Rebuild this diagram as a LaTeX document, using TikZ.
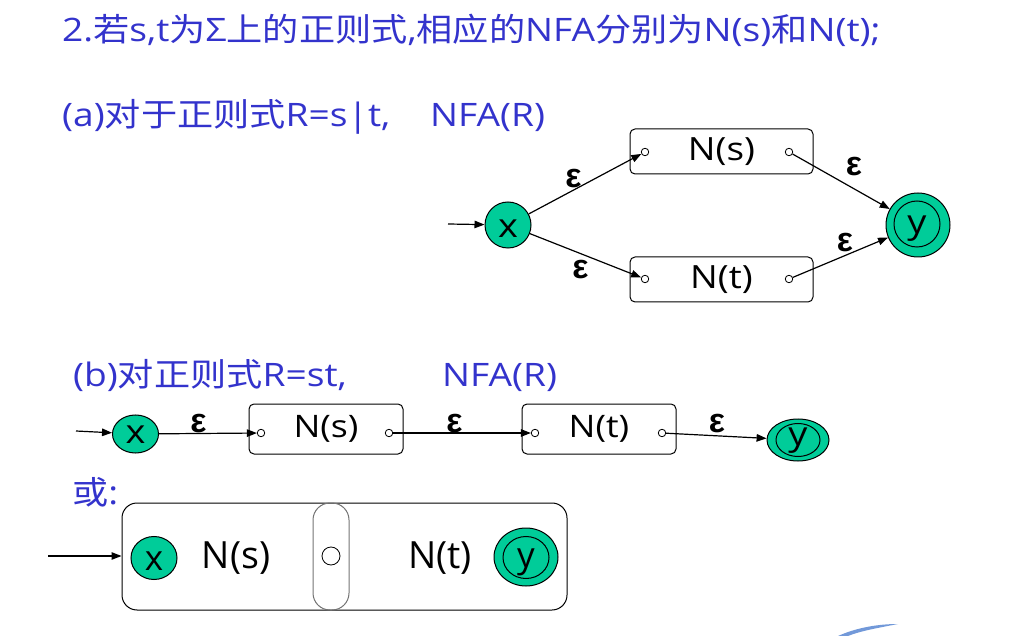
\documentclass[tikz,border=0pt]{standalone}
\usepackage{fontspec}
\setmainfont{Open Sans}[FakeStretch=1.15]
\newfontfamily\cjkfont{Noto Sans CJK SC}[FakeStretch=1.12]
\newfontfamily\unstretched{Open Sans}
\newcommand\cj[1]{{\cjkfont #1}}
\newfontfamily\epsfont{Liberation Sans}
\usetikzlibrary{arrows.meta,shapes.geometric}
\definecolor{titleblue}{HTML}{3333CC}
\definecolor{stategreen}{HTML}{00CC99}
\definecolor{swoosh}{HTML}{4F7FCF}
\begin{document}
\begin{tikzpicture}[x=1pt,y=-1pt,
  ttl/.style={anchor=base west, inner sep=0, text=titleblue, font=\fontsize{32.3}{38}\selectfont},
  state/.style={ellipse, draw, fill=stategreen, line width=1pt, inner sep=0, minimum width=46, minimum height=46, font=\fontsize{32}{32}\selectfont},
  ring/.style={ellipse, draw, line width=1pt, inner sep=0, minimum width=46, minimum height=46, font=\fontsize{32}{32}\selectfont},
  lbl/.style={inner sep=0, font=\fontsize{33}{33}\selectfont},
  nbox/.style={draw, rounded corners=5pt, line width=1pt, inner sep=0, minimum width=183, minimum height=45, font=\fontsize{32}{32}\selectfont},
  port/.style={circle, draw, line width=0.8pt, fill=white, minimum size=7.5, inner sep=0},
  eps/.style={inner sep=0, font=\epsfont\bfseries\fontsize{34}{34}\selectfont},
  arr/.style={-{Triangle[length=10pt,width=7.5pt]}, line width=1.2pt},
  plain/.style={inner sep=0}
]
\useasboundingbox (0,0) rectangle (1034,636);

% titles
\node[ttl] (t1) at (62,42) {2.\cj{若}s,t\cj{为}Σ\cj{上的正则式},\cj{相应的}NFA\cj{分别为}N(s)\cj{和}N(t);};
\node[ttl] (t2a) at (62,127) {(a)\cj{对于正则式}R=s|t,};
\node[ttl] (t2b) at (430,127) {NFA(R)};
\node[ttl] (t3a) at (73,387) {(b)\cj{对正则式}R=st,};
\node[ttl] (t3b) at (442,387) {NFA(R)};
\node[ttl] (t4) at (72,504) {\cj{或}:};

% ---------- (a) ----------
\node[state, label={[lbl,yshift=-4pt]center:x}] (ax) at (508,225) {};
\node[nbox] (ans) at (721.5,151.5) {N(s)};
\node[nbox] (ant) at (721.5,279.5) {N(t)};
\node[port] (ansi) at (645,152) {};
\node[port] (anso) at (789,152) {};
\node[port] (anti) at (645,279) {};
\node[port] (anto) at (789,279) {};
\node[state, minimum width=64, minimum height=64] (ay) at (918,225) {};
\node[ring, label={[lbl,yshift=-5pt]center:y}] (ayr) at (917,224) {};
\coordinate (ain) at (448,224);
\draw[arr] (ain) -- (ax);
\draw[arr] (ax) -- (ansi);
\draw[arr] (ax) -- (anti);
\draw[arr] (anso) -- (ay);
\draw[arr] (anto) -- (ay);
\node[eps] (ae1) at (573.5,178.5) {ε};
\node[eps] (ae2) at (580.5,270) {ε};
\node[eps] (ae3) at (854,167) {ε};
\node[eps] (ae4) at (845,243) {ε};

% ---------- (b) ----------
\node[state, minimum height=38, label={[lbl,yshift=-1pt]center:x}] (bx) at (135.5,434) {};
\node[nbox, minimum width=154, minimum height=50, font=\fontsize{31}{31}\selectfont] (bns) at (326,429) {N(s)};
\node[nbox, minimum width=154, minimum height=50, font=\fontsize{31}{31}\selectfont] (bnt) at (599,429) {N(t)};
\node[port] (bnsi) at (261,433) {};
\node[port] (bnso) at (389,433) {};
\node[port] (bnti) at (535,433) {};
\node[port] (bnto) at (662,433) {};
\node[state, minimum width=62, minimum height=42] (by) at (798,440) {};
\node[ring, minimum width=44, minimum height=33, label={[lbl,yshift=-1pt]center:y}] (byr) at (798,440) {};
\coordinate (bin) at (76,431);
\draw[arr] (bin) -- (bx);
\draw[arr] (bx) -- (bnsi);
\draw[arr] (bnso) -- (bnti);
\draw[arr] (bnto) -- (by);
\node[eps] (be1) at (198.5,424) {ε};
\node[eps] (be2) at (454.5,424) {ε};
\node[eps] (be3) at (717,424) {ε};

% ---------- 或 ----------
\node[draw, rounded corners=15pt, line width=1pt, minimum width=445, minimum height=107, inner sep=0] (cbox) at (344.5,556.5) {};
\node[draw=black!55, rounded corners=17pt, line width=1pt, minimum width=36, minimum height=107, inner sep=0] (cpill) at (331,556.5) {};
\node[circle, draw, line width=0.8pt, minimum size=18, inner sep=0] (cmid) at (331,556) {};
\node[state, minimum height=43, label={[plain,font=\unstretched\fontsize{35}{35}\selectfont,yshift=-3pt]center:x}] (cx) at (154,558) {};
\node[plain, font=\unstretched\fontsize{37.5}{37.5}\selectfont] (cns) at (236,558) {N(s)};
\node[plain, font=\unstretched\fontsize{37.5}{37.5}\selectfont] (cnt) at (440,558) {N(t)};
\node[state, minimum width=64, minimum height=58] (cy) at (526,557) {};
\node[ring, minimum width=46, minimum height=42, label={[plain,font=\unstretched\fontsize{35}{35}\selectfont,yshift=-5pt]center:y}] (cyr) at (526,557.5) {};
\coordinate (cin) at (48,556);
\draw[arr] (cin) -- (cin -| cbox.west);

% decorative swoosh
\fill[swoosh, opacity=0.8] (838,636) .. controls (858,627) and (880,624) .. (898,624) .. controls (880,627.5) and (860,631) .. (848,636) -- cycle;
\end{tikzpicture}
\end{document}
